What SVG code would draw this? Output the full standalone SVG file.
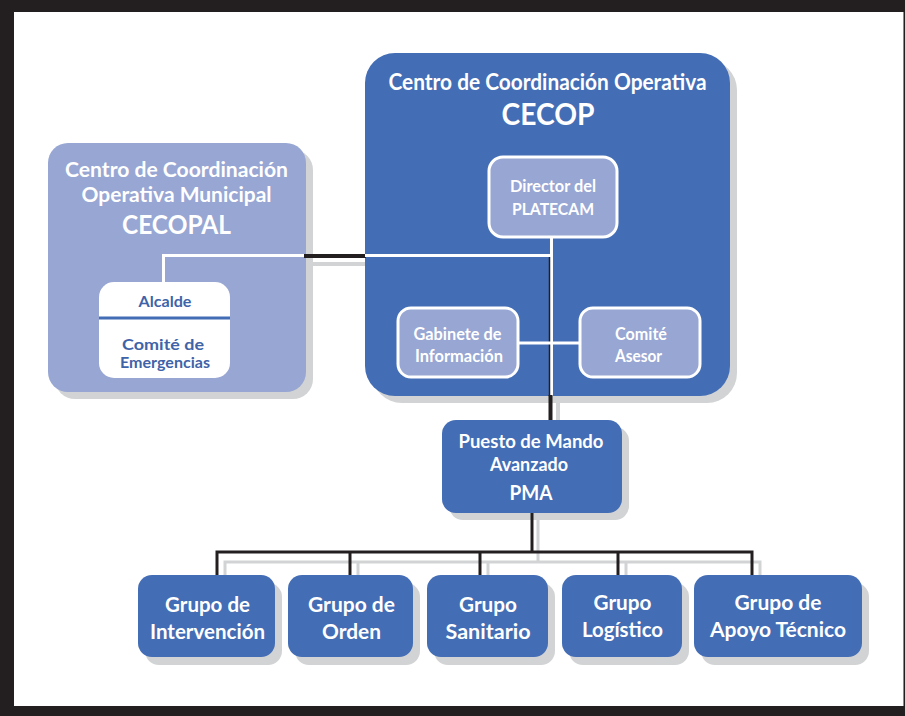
<svg xmlns="http://www.w3.org/2000/svg" width="905" height="716" viewBox="0 0 905 716">
<defs>
<style>
.dark{fill:#436db5}
.light{fill:#97a6d3}
.shadow{fill:#d1d3d4}
.inner{fill:#97a6d3;stroke:#ffffff;stroke-width:3}
.t{font-family:Lato,"Open Sans","Liberation Sans",sans-serif;font-weight:bold;fill:#ffffff;text-anchor:middle}
.tb{font-family:Lato,"Open Sans","Liberation Sans",sans-serif;font-weight:bold;fill:#3f63a8;text-anchor:middle}
.blk{stroke:#231f20;fill:none}
.gry{stroke:#d1d3d4;fill:none}
.wht{stroke:#ffffff;fill:none}
</style>
</defs>
<rect x="0" y="0" width="905" height="716" fill="#231f20"/>
<rect x="14" y="12" width="889" height="694" fill="#ffffff"/>
<line x1="903.5" y1="12" x2="903.5" y2="706" stroke="#8a8a8a" stroke-width="1"/>

<g id="shadows">
<rect class="shadow" x="55" y="150" width="258" height="249" rx="20"/>
<rect class="shadow" x="372" y="60" width="365" height="343" rx="30"/>
<rect class="shadow" x="449" y="427" width="180" height="93" rx="14"/>
<rect class="shadow" x="145" y="583" width="137" height="82" rx="14"/>
<rect class="shadow" x="295" y="583" width="125" height="82" rx="14"/>
<rect class="shadow" x="434" y="583" width="121" height="82" rx="14"/>
<rect class="shadow" x="569" y="583" width="120" height="82" rx="14"/>
<rect class="shadow" x="701" y="583" width="168" height="82" rx="14"/>
</g>

<g id="connector-shadows">
<line class="gry" x1="312" y1="264" x2="372" y2="264" stroke-width="4"/>
<line class="gry" x1="558" y1="403" x2="558" y2="427" stroke-width="4"/>
<line class="gry" x1="538" y1="520" x2="538" y2="562" stroke-width="3"/>
<polyline class="gry" points="225,583 225,562 760,562 760,583" stroke-width="3"/>
<line class="gry" x1="358" y1="562" x2="358" y2="583" stroke-width="3"/>
<line class="gry" x1="488" y1="562" x2="488" y2="583" stroke-width="3"/>
<line class="gry" x1="626" y1="562" x2="626" y2="583" stroke-width="3"/>
</g>

<g id="cecopal">
<rect class="light" x="48" y="143" width="258" height="249" rx="20"/>
<text class="t" x="176.5" y="177" font-size="21" textLength="223" lengthAdjust="spacingAndGlyphs">Centro de Coordinación</text>
<text class="t" x="176.5" y="202" font-size="21" textLength="190" lengthAdjust="spacingAndGlyphs">Operativa Municipal</text>
<text class="t" x="176.5" y="234" font-size="26" textLength="109" lengthAdjust="spacingAndGlyphs">CECOPAL</text>
</g>

<g id="cecop">
<rect class="dark" x="365" y="53" width="365" height="343" rx="30"/>
<text class="t" x="547.5" y="90" font-size="22" textLength="318" lengthAdjust="spacingAndGlyphs">Centro de Coordinación Operativa</text>
<text class="t" x="548" y="125" font-size="30" textLength="93" lengthAdjust="spacingAndGlyphs">CECOP</text>
</g>

<g id="connectors">
<polyline class="wht" points="163.5,283 163.5,255.5 306,255.5" stroke-width="3"/>
<line class="blk" x1="304" y1="256" x2="366" y2="256" stroke-width="4"/>
<line class="wht" x1="365" y1="255.5" x2="551.5" y2="255.5" stroke-width="3"/>
<line class="wht" x1="551.5" y1="237" x2="551.5" y2="396" stroke-width="3"/>
<line class="blk" x1="549.5" y1="257" x2="549.5" y2="396" stroke-width="1.5"/>
<line class="blk" x1="550.5" y1="395" x2="550.5" y2="421" stroke-width="4"/>
<line class="wht" x1="518" y1="343" x2="580" y2="343" stroke-width="3"/>
<line class="blk" x1="532" y1="513" x2="532" y2="552" stroke-width="3"/>
<polyline class="blk" points="217,576 217,552 752,552 752,576" stroke-width="3"/>
<line class="blk" x1="350" y1="552" x2="350" y2="576" stroke-width="3"/>
<line class="blk" x1="480" y1="552" x2="480" y2="576" stroke-width="3"/>
<line class="blk" x1="618" y1="552" x2="618" y2="576" stroke-width="3"/>
</g>

<g id="alcalde">
<rect x="99" y="282" width="131" height="96" rx="15" fill="#ffffff"/>
<line x1="99" y1="318" x2="230" y2="318" stroke="#436db5" stroke-width="3"/>
<text class="tb" x="165" y="307" font-size="16" textLength="53" lengthAdjust="spacingAndGlyphs">Alcalde</text>
<text class="tb" x="163" y="350" font-size="14.5" textLength="82" lengthAdjust="spacingAndGlyphs">Comité  de</text>
<text class="tb" x="165" y="368" font-size="14.5" textLength="90" lengthAdjust="spacingAndGlyphs">Emergencias</text>
</g>

<g id="director">
<rect class="inner" x="489" y="157" width="128" height="80" rx="14"/>
<text class="t" x="553" y="192" font-size="17" textLength="86" lengthAdjust="spacingAndGlyphs">Director del</text>
<text class="t" x="553" y="215" font-size="17" textLength="82" lengthAdjust="spacingAndGlyphs">PLATECAM</text>
</g>

<g id="gabinete">
<rect class="inner" x="398" y="308" width="120" height="69" rx="13"/>
<text class="t" x="457.5" y="340" font-size="16.5" textLength="88" lengthAdjust="spacingAndGlyphs">Gabinete de</text>
<text class="t" x="459" y="362" font-size="16.5" textLength="88" lengthAdjust="spacingAndGlyphs">Información</text>
</g>

<g id="comite-asesor">
<rect class="inner" x="580" y="308" width="120" height="69" rx="13"/>
<text class="t" x="641" y="340" font-size="16.5" textLength="52" lengthAdjust="spacingAndGlyphs">Comité</text>
<text class="t" x="638.5" y="362" font-size="16.5" textLength="47" lengthAdjust="spacingAndGlyphs">Asesor</text>
</g>

<g id="pma">
<rect class="dark" x="442" y="420" width="180" height="93" rx="14"/>
<text class="t" x="531" y="448" font-size="19" textLength="145" lengthAdjust="spacingAndGlyphs">Puesto de Mando</text>
<text class="t" x="529" y="471" font-size="19" textLength="78" lengthAdjust="spacingAndGlyphs">Avanzado</text>
<text class="t" x="531" y="500" font-size="21" textLength="43" lengthAdjust="spacingAndGlyphs">PMA</text>
</g>

<g id="g-intervencion">
<rect class="dark" x="138" y="575" width="137" height="82" rx="14"/>
<text class="t" x="207.5" y="612" font-size="21" textLength="85" lengthAdjust="spacingAndGlyphs">Grupo de</text>
<text class="t" x="207.5" y="639" font-size="21" textLength="115" lengthAdjust="spacingAndGlyphs">Intervención</text>
</g>

<g id="g-orden">
<rect class="dark" x="288" y="575" width="125" height="82" rx="14"/>
<text class="t" x="351.5" y="612" font-size="21" textLength="87" lengthAdjust="spacingAndGlyphs">Grupo de</text>
<text class="t" x="351.5" y="639" font-size="21" textLength="59" lengthAdjust="spacingAndGlyphs">Orden</text>
</g>

<g id="g-sanitario">
<rect class="dark" x="427" y="575" width="121" height="82" rx="14"/>
<text class="t" x="488" y="612" font-size="21" textLength="58" lengthAdjust="spacingAndGlyphs">Grupo</text>
<text class="t" x="488" y="639" font-size="21" textLength="85" lengthAdjust="spacingAndGlyphs">Sanitario</text>
</g>

<g id="g-logistico">
<rect class="dark" x="562" y="575" width="120" height="82" rx="14"/>
<text class="t" x="622.5" y="610" font-size="21" textLength="58" lengthAdjust="spacingAndGlyphs">Grupo</text>
<text class="t" x="622.5" y="637" font-size="21" textLength="81" lengthAdjust="spacingAndGlyphs">Logístico</text>
</g>

<g id="g-apoyo">
<rect class="dark" x="694" y="575" width="168" height="82" rx="14"/>
<text class="t" x="778" y="610" font-size="21" textLength="87" lengthAdjust="spacingAndGlyphs">Grupo de</text>
<text class="t" x="778" y="637" font-size="21" textLength="136" lengthAdjust="spacingAndGlyphs">Apoyo Técnico</text>
</g>
</svg>
